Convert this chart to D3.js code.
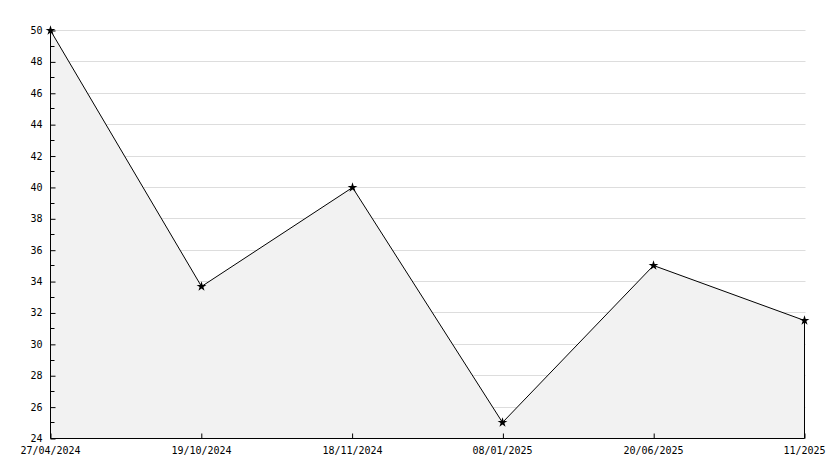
<!doctype html>
<html>
<head>
<meta charset="utf-8">
<script src="https://d3js.org/d3.v7.min.js"></script>
<style>
  body { margin: 0; background: #fff; }
  text { font-family: "DejaVu Sans Mono", monospace; font-size: 10px; fill: #000; }
</style>
</head>
<body>
<svg id="chart" width="834" height="468"></svg>
<script>
// chart data
const dates = ["27/04/2024", "19/10/2024", "18/11/2024", "08/01/2025", "20/06/2025", "11/2025"];
const values = [50, 33.7, 40, 25, 35, 31.5];
const yTicks = [24, 26, 28, 30, 32, 34, 36, 38, 40, 42, 44, 46, 48, 50];
const yMinorTicks = [25, 27, 29, 31, 33, 35, 37, 39, 41, 43, 45, 47, 49];

const svg = d3.select("#chart");
const plotLeft = 50, plotRight = 804, plotTop = 30, plotBottom = 438;

const x = d3.scalePoint().domain(dates).range([plotLeft, plotRight]);
const y = d3.scaleLinear().domain([24, 50]).range([plotBottom, plotTop]);

const data = dates.map((d, i) => ({ date: d, value: values[i] }));

const g = svg.append("g").attr("transform", "translate(0.5,0.5)");

// grid lines behind the area
g.append("g")
  .selectAll("line")
  .data(yTicks)
  .join("line")
    .attr("x1", plotLeft)
    .attr("x2", plotRight + 1)
    .attr("y1", d => Math.round(y(d)))
    .attr("y2", d => Math.round(y(d)))
    .attr("stroke", "#dddddd");

// area under the line
const area = d3.area()
  .x(d => Math.round(x(d.date)))
  .y0(plotBottom)
  .y1(d => Math.round(y(d.value)));

g.append("path")
  .datum(data)
  .attr("d", area)
  .attr("fill", "#f2f2f2");

// right edge of the area
g.append("line")
  .attr("x1", plotRight).attr("x2", plotRight)
  .attr("y1", Math.round(y(values[values.length - 1])))
  .attr("y2", plotBottom)
  .attr("stroke", "#000");

// line
const line = d3.line()
  .x(d => Math.round(x(d.date)))
  .y(d => Math.round(y(d.value)));

g.append("path")
  .datum(data)
  .attr("d", line)
  .attr("fill", "none")
  .attr("stroke", "#000")
  .attr("stroke-width", 1);

// y axis, ticks inside
const yAxis = g.append("g")
  .attr("transform", `translate(${plotLeft},0)`)
  .call(d3.axisRight(y).tickValues(yTicks).tickSize(5).tickFormat(""));
yAxis.select(".domain").attr("d", `M0,${plotTop - 2}V${plotBottom}`);
yAxis.append("g")
  .selectAll("line")
  .data(yMinorTicks)
  .join("line")
    .attr("x1", 0).attr("x2", 4)
    .attr("y1", d => Math.round(y(d)))
    .attr("y2", d => Math.round(y(d)))
    .attr("stroke", "#000");

// y labels
g.append("g")
  .selectAll("text")
  .data(yTicks)
  .join("text")
    .attr("x", plotLeft - 8)
    .attr("y", d => Math.round(y(d)))
    .attr("dy", "0.35em")
    .attr("text-anchor", "end")
    .text(d => d);

// x axis, ticks pointing up
const xAxis = g.append("g")
  .attr("transform", `translate(0,${plotBottom})`)
  .call(d3.axisTop(x).tickSize(5).tickFormat(""));
xAxis.select(".domain").attr("d", `M${plotLeft},0H${plotRight}`);

g.append("g")
  .selectAll("text")
  .data(dates)
  .join("text")
    .attr("x", d => Math.round(x(d)))
    .attr("y", plotBottom + 15)
    .attr("text-anchor", "middle")
    .text(d => d);

// markers
g.append("g")
  .selectAll("path")
  .data(data)
  .join("path")
    .attr("transform", d => `translate(${Math.round(x(d.date))},${Math.round(y(d.value))})`)
    .attr("d", d3.symbol(d3.symbolStar, 30))
    .attr("fill", "#000");
</script>
</body>
</html>
